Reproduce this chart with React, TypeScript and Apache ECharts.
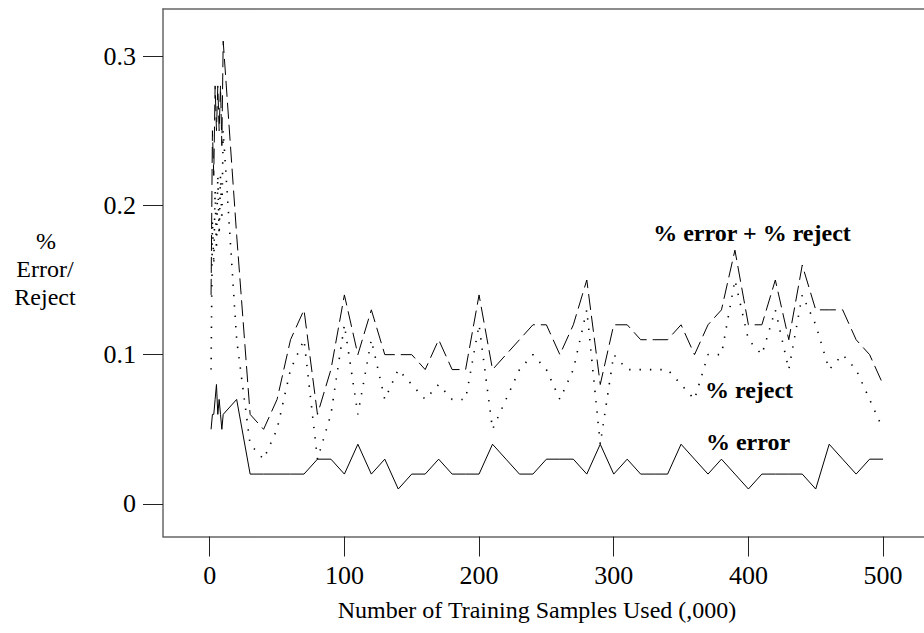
import React, { useEffect, useRef } from "react";
import * as echarts from "echarts";

// Training samples used (,000)
const samples = [
  1, 2, 3, 4, 5, 6, 7, 8, 9, 10,
  20, 30, 40, 50, 60, 70, 80, 90, 100, 110,
  120, 130, 140, 150, 160, 170, 180, 190, 200, 210,
  220, 230, 240, 250, 260, 270, 280, 290, 300, 310,
  320, 330, 340, 350, 360, 370, 380, 390, 400, 410,
  420, 430, 440, 450, 460, 470, 480, 490, 500,
];

const errorPct = [
  0.05, 0.06, 0.06, 0.07, 0.08, 0.06, 0.07, 0.06, 0.05, 0.06,
  0.07, 0.02, 0.02, 0.02, 0.02, 0.02, 0.03, 0.03, 0.02, 0.04,
  0.02, 0.03, 0.01, 0.02, 0.02, 0.03, 0.02, 0.02, 0.02, 0.04,
  0.03, 0.02, 0.02, 0.03, 0.03, 0.03, 0.02, 0.04, 0.02, 0.03,
  0.02, 0.02, 0.02, 0.04, 0.03, 0.02, 0.03, 0.02, 0.01, 0.02,
  0.02, 0.02, 0.02, 0.01, 0.04, 0.03, 0.02, 0.03, 0.03,
];

const rejectPct = [
  0.09, 0.19, 0.16, 0.21, 0.17, 0.22, 0.18, 0.22, 0.19, 0.25,
  0.11, 0.04, 0.03, 0.05, 0.09, 0.11, 0.03, 0.06, 0.12, 0.06,
  0.11, 0.07, 0.09, 0.08, 0.07, 0.08, 0.07, 0.07, 0.12, 0.05,
  0.07, 0.09, 0.10, 0.09, 0.07, 0.09, 0.13, 0.04, 0.10, 0.09,
  0.09, 0.09, 0.09, 0.08, 0.07, 0.10, 0.10, 0.15, 0.11, 0.10,
  0.13, 0.09, 0.14, 0.12, 0.09, 0.10, 0.09, 0.07, 0.05,
];

const totalPct = [
  0.14, 0.25, 0.22, 0.28, 0.25, 0.28, 0.25, 0.28, 0.24, 0.31,
  0.18, 0.06, 0.05, 0.07, 0.11, 0.13, 0.06, 0.09, 0.14, 0.10,
  0.13, 0.10, 0.10, 0.10, 0.09, 0.11, 0.09, 0.09, 0.14, 0.09,
  0.10, 0.11, 0.12, 0.12, 0.10, 0.12, 0.15, 0.08, 0.12, 0.12,
  0.11, 0.11, 0.11, 0.12, 0.10, 0.12, 0.13, 0.17, 0.12, 0.12,
  0.15, 0.11, 0.16, 0.13, 0.13, 0.13, 0.11, 0.10, 0.08,
];

const xTicks = [0, 100, 200, 300, 400, 500];
const yTicks = [0, 0.1, 0.2, 0.3];

const FONT = "'Liberation Serif', 'DejaVu Serif', serif";
const X_MIN = -34.7;
const X_MAX = 530.4;
const FRAME = { color: "#666", width: 1.5 };

export default function App() {
  const ref = useRef<HTMLDivElement>(null);

  useEffect(() => {
    if (!ref.current) return;
    const chart = echarts.init(ref.current, null, { renderer: "svg" });
    const pairs = (vals: number[]) => samples.map((x, i) => [x, vals[i]]);
    const baseSeries = {
      type: "line" as const,
      symbol: "none",
      showSymbol: false,
      silent: true,
      xAxisIndex: 0,
      yAxisIndex: 0,
    };
    const label = (text: string, x: number, y: number, size: number, bold = false) => ({
      type: "text",
      x,
      y,
      style: {
        text,
        fontFamily: FONT,
        fontSize: size,
        fontWeight: bold ? "bold" : "normal",
        fill: "#000",
        align: "center",
        verticalAlign: "middle",
      },
    });
    chart.setOption({
      animation: false,
      backgroundColor: "#fff",
      grid: { left: 163, top: 9, right: 0, bottom: 96.5, show: false },
      xAxis: [
        {
          type: "value",
          position: "bottom",
          min: X_MIN,
          max: X_MAX,
          axisLine: { show: true, onZero: false, lineStyle: FRAME },
          splitLine: { show: false },
          axisTick: {
            show: true,
            customValues: xTicks,
            length: 20,
            inside: false,
            lineStyle: { color: "#222", width: 1 },
          },
          axisLabel: {
            customValues: xTicks,
            margin: 26,
            color: "#000",
            fontFamily: FONT,
            fontSize: 26,
          },
        },
        {
          type: "value",
          position: "top",
          min: X_MIN,
          max: X_MAX,
          axisLine: { show: true, onZero: false, lineStyle: FRAME },
          axisTick: { show: false },
          axisLabel: { show: false },
          splitLine: { show: false },
        },
      ],
      yAxis: {
        type: "value",
        min: -0.0218,
        max: 0.3315,
        axisLine: { show: true, onZero: false, lineStyle: FRAME },
        splitLine: { show: false },
        axisTick: {
          show: true,
          customValues: yTicks,
          length: 20,
          inside: false,
          lineStyle: { color: "#222", width: 1 },
        },
        axisLabel: {
          customValues: yTicks,
          margin: 27,
          color: "#000",
          fontFamily: FONT,
          fontSize: 26,
          formatter: (v: number) => (v === 0 ? "0" : v.toFixed(1)),
        },
      },
      series: [
        {
          ...baseSeries,
          name: "% error",
          data: pairs(errorPct),
          lineStyle: { color: "#000", width: 1, type: "solid" },
        },
        {
          ...baseSeries,
          name: "% reject",
          data: pairs(rejectPct),
          lineStyle: { color: "#000", width: 1.6, type: [1.4, 9], cap: "butt" },
        },
        {
          ...baseSeries,
          name: "% error + % reject",
          data: pairs(totalPct),
          lineStyle: { color: "#000", width: 1, type: [16, 6] },
        },
      ],
      graphic: [
        label("%", 46, 241, 24),
        label("Error/", 45, 269, 24),
        label("Reject", 45, 297, 24),
        label("Number of Training Samples Used (,000)", 537, 610, 24),
        label("% error + % reject", 752, 233, 24, true),
        label("% reject", 749, 390, 24, true),
        label("% error", 748, 442, 24, true),
      ],
    });
    return () => chart.dispose();
  }, []);

  return <div ref={ref} style={{ width: 924, height: 633, position: "absolute", left: 0, top: 0 }} />;
}
